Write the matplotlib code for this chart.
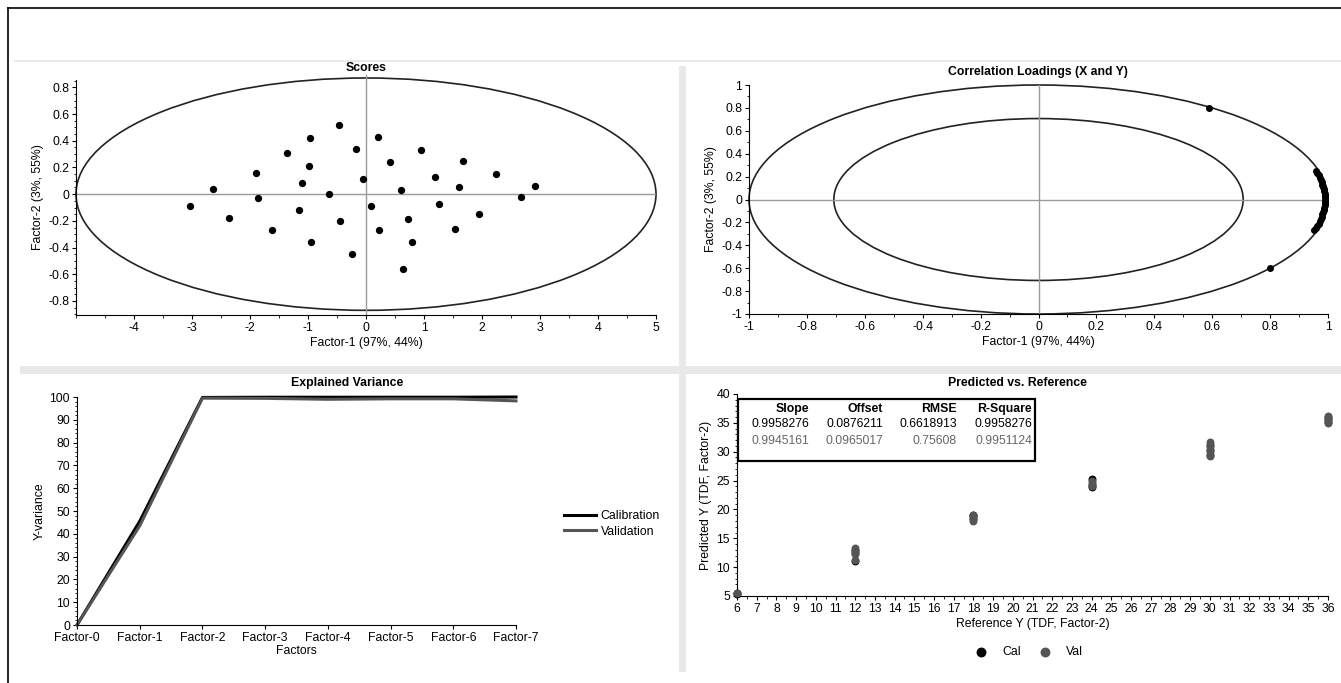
import numpy as np
import matplotlib
matplotlib.use("Agg")
import matplotlib.pyplot as plt
from matplotlib.patches import Ellipse, Rectangle
from matplotlib.lines import Line2D
from matplotlib.ticker import MultipleLocator

plt.rcParams['font.family'] = ['Liberation Sans', 'DejaVu Sans']
plt.rcParams['font.size'] = 8.8
plt.rcParams['axes.unicode_minus'] = False

W, H = 1341, 683
FS = 8.8

# ---- data ----
score_f1 = [-0.47, -0.96, 0.20, -1.36, -0.18, 0.94, -0.98, 0.42, 1.67, -1.89, 2.24, 1.19,
            -0.05, -1.11, 2.91, 1.61, -2.64, 0.60, -0.63, 2.68, -1.87, -3.04, 0.08, 1.25,
            -1.15, 1.94, -2.36, 0.73, -0.44, -1.62, 0.22, 1.54, -0.94, 0.80, -0.25, 0.63]
score_f2 = [0.52, 0.42, 0.43, 0.31, 0.34, 0.33, 0.21, 0.24, 0.25, 0.16, 0.15, 0.13,
            0.11, 0.08, 0.06, 0.05, 0.035, 0.03, 0.0, -0.02, -0.03, -0.09, -0.09, -0.075,
            -0.12, -0.15, -0.175, -0.185, -0.20, -0.27, -0.27, -0.26, -0.36, -0.36, -0.45, -0.56]

load_f1 = [0.59, 0.80, 0.958, 0.963, 0.968, 0.972, 0.975, 0.979, 0.981, 0.984, 0.986, 0.987,
           0.988, 0.989, 0.990, 0.990, 0.989, 0.988, 0.987, 0.986, 0.984, 0.981, 0.979,
           0.975, 0.972, 0.968, 0.963, 0.958, 0.953]
load_f2 = [0.80, -0.60, 0.25, 0.23, 0.21, 0.19, 0.17, 0.15, 0.13, 0.11, 0.09, 0.07,
           0.05, 0.03, 0.01, -0.01, -0.03, -0.05, -0.07, -0.09, -0.11, -0.13, -0.15,
           -0.17, -0.19, -0.21, -0.23, -0.25, -0.27]

factors = ['Factor-0', 'Factor-1', 'Factor-2', 'Factor-3', 'Factor-4', 'Factor-5', 'Factor-6', 'Factor-7']
calib_var = [0, 45.5, 99.8, 99.9, 99.9, 99.9, 99.9, 100]
valid_var = [0, 43.5, 99.5, 99.4, 99.0, 99.2, 99.2, 98.3]

cal_ref = [6, 6, 12, 12, 12, 18, 18, 18, 24, 24, 24, 30, 30, 30, 36, 36, 36]
cal_pred = [5.6, 5.3, 12.5, 13.0, 11.0, 18.3, 18.8, 19.0, 23.8, 24.3, 25.3, 29.5, 30.3, 31.2, 35.2, 35.7, 36.0]
val_ref = [6, 12, 12, 12, 12, 18, 18, 18, 24, 24, 24, 30, 30, 30, 30, 36, 36, 36]
val_pred = [5.5, 12.2, 12.8, 13.3, 11.2, 18.0, 18.6, 19.1, 24.0, 24.6, 25.0, 29.2, 30.0, 30.8, 31.6, 35.0, 35.5, 36.2]

stat_cols = ['Slope', 'Offset', 'RMSE', 'R-Square']
stat_cal = ['0.9958276', '0.0876211', '0.6618913', '0.9958276']
stat_val = ['0.9945161', '0.0965017', '0.75608', '0.9951124']


def px_axes(fig, l, t, r, b):
    return fig.add_axes([l / W, 1 - b / H, (r - l) / W, (b - t) / H])


def style(ax):
    ax.spines['top'].set_visible(False)
    ax.spines['right'].set_visible(False)
    ax.tick_params(which='major', direction='out', length=3, width=0.8, pad=2, labelsize=FS)
    ax.tick_params(which='minor', direction='out', length=1.8, width=0.6)
    ax.patch.set_alpha(0)


def fmt(v):
    s = f'{v:.1f}'.rstrip('0').rstrip('.')
    return '0' if s in ('-0', '0') else s


fig = plt.figure(figsize=(W / 100, H / 100), dpi=100)

# frame and panel separators
fig.add_artist(Line2D([8 / W, 8 / W], [0, 1 - 8 / H], color='black', lw=1.2))
fig.add_artist(Line2D([8 / W, 1], [1 - 8 / H, 1 - 8 / H], color='black', lw=1.2))
gray = '#e9e9e9'
fig.add_artist(Rectangle((14 / W, 1 - 62 / H), 1, 2 / H, color=gray, lw=0))
fig.add_artist(Rectangle((20 / W, 1 - 374 / H), 1, 8 / H, color=gray, lw=0))
fig.add_artist(Rectangle((679 / W, 1 - 672 / H), 7 / W, 606 / H, color=gray, lw=0))

# ---- Scores ----
ax1 = px_axes(fig, 76, 80, 656, 315)
style(ax1)
ax1.axhline(0, color='#9a9a9a', lw=1)
ax1.axvline(0, color='#9a9a9a', lw=1, ymin=0, ymax=1.02, clip_on=False)
ax1.add_patch(Ellipse((0, 0), 10, 1.74, fill=False, ec='#222222', lw=1.2, clip_on=False))
ax1.scatter(score_f1, score_f2, s=18, color='black', zorder=3)
ax1.set_xlim(-5, 5)
ax1.set_ylim(-0.905, 0.855)
ax1.set_xticks(range(-4, 6))
ax1.xaxis.set_minor_locator(MultipleLocator(0.5))
ax1.set_yticks(np.arange(-0.8, 0.81, 0.2))
ax1.set_yticklabels([fmt(v) for v in np.arange(-0.8, 0.81, 0.2)])
ax1.yaxis.set_minor_locator(MultipleLocator(0.05))
ax1.set_xlabel('Factor-1 (97%, 44%)', labelpad=2)
ax1.set_ylabel('Factor-2 (3%, 55%)', labelpad=3)
fig.text(366 / W, 1 - 68 / H, 'Scores', ha='center', va='center', fontweight='bold')

# ---- Correlation loadings ----
ax2 = px_axes(fig, 749, 85, 1328, 314)
style(ax2)
ax2.axhline(0, color='#9a9a9a', lw=1)
ax2.axvline(0, color='#9a9a9a', lw=1)
ax2.add_patch(Ellipse((0, 0), 2, 2, fill=False, ec='#222222', lw=1.2, clip_on=False))
ax2.add_patch(Ellipse((0, 0), 1.414, 1.414, fill=False, ec='#222222', lw=1.2, clip_on=False))
ax2.scatter(load_f1, load_f2, s=16, color='black', zorder=3, clip_on=False)
ax2.set_xlim(-1, 1)
ax2.set_ylim(-1, 1)
ticks = np.arange(-1, 1.01, 0.2)
ax2.set_xticks(ticks)
ax2.set_xticklabels([fmt(v) for v in ticks])
ax2.set_yticks(ticks)
ax2.set_yticklabels([fmt(v) for v in ticks])
ax2.xaxis.set_minor_locator(MultipleLocator(0.1))
ax2.yaxis.set_minor_locator(MultipleLocator(0.1))
ax2.set_xlabel('Factor-1 (97%, 44%)', labelpad=2)
ax2.set_ylabel('Factor-2 (3%, 55%)', labelpad=3)
fig.text(1038 / W, 1 - 72 / H, 'Correlation Loadings (X and Y)', ha='center', va='center', fontweight='bold')

# ---- Explained variance ----
ax3 = px_axes(fig, 77, 397, 516, 625)
style(ax3)
xf = np.arange(len(factors))
ax3.plot(xf, calib_var, color='black', lw=2.2, label='Calibration', clip_on=False)
ax3.plot(xf, valid_var, color='#555555', lw=2.2, label='Validation', clip_on=False)
ax3.set_xlim(0, 7)
ax3.set_ylim(0, 100)
ax3.set_xticks(xf)
ax3.set_xticklabels(factors)
ax3.set_yticks(range(0, 101, 10))
ax3.yaxis.set_minor_locator(MultipleLocator(2))
ax3.set_xlabel('Factors', labelpad=1)
ax3.set_ylabel('Y-variance', labelpad=3)
fig.text(347 / W, 1 - 383 / H, 'Explained Variance', ha='center', va='center', fontweight='bold')
ax3.legend(loc='center left', bbox_to_anchor=(553 / W, 1 - 524 / H), bbox_transform=fig.transFigure,
           frameon=False, handlelength=2.6, handletextpad=0.4, labelspacing=0.25, fontsize=FS)

# ---- Predicted vs reference ----
ax4 = px_axes(fig, 737, 394, 1328, 596)
style(ax4)
ax4.scatter(cal_ref, cal_pred, s=22, color='black', label='Cal', zorder=3, clip_on=False)
ax4.scatter(val_ref, val_pred, s=22, color='#555555', label='Val', zorder=3, clip_on=False)
ax4.set_xlim(6, 36)
ax4.set_ylim(5, 40)
ax4.set_xticks(range(6, 37))
ax4.xaxis.set_minor_locator(MultipleLocator(0.5))
ax4.set_yticks(range(5, 41, 5))
ax4.yaxis.set_minor_locator(MultipleLocator(1))
ax4.set_xlabel('Reference Y (TDF, Factor-2)', labelpad=2)
ax4.set_ylabel('Predicted Y (TDF, Factor-2)', labelpad=3)
fig.text(1017 / W, 1 - 383 / H, 'Predicted vs. Reference', ha='center', va='center', fontweight='bold')
ax4.legend(loc='center', bbox_to_anchor=(1026 / W, 1 - 652 / H), bbox_transform=fig.transFigure,
           frameon=False, ncol=2, handlelength=2, handletextpad=0.75, columnspacing=0.9,
           markerscale=1.3, fontsize=FS)

# statistics box
fig.add_artist(Rectangle((738 / W, 1 - 461 / H), (1035 - 738) / W, 62 / H, fill=False, ec='black', lw=1.6))
col_right = [809, 883, 957, 1032]
for i, name in enumerate(stat_cols):
    x = col_right[i] / W
    fig.text(x, 1 - 409 / H, name, ha='right', va='center', fontweight='bold')
    fig.text(x, 1 - 424 / H, stat_cal[i], ha='right', va='center', color='black')
    fig.text(x, 1 - 441 / H, stat_val[i], ha='right', va='center', color='#666666')

fig.savefig('out.png', dpi=100, facecolor='white')
